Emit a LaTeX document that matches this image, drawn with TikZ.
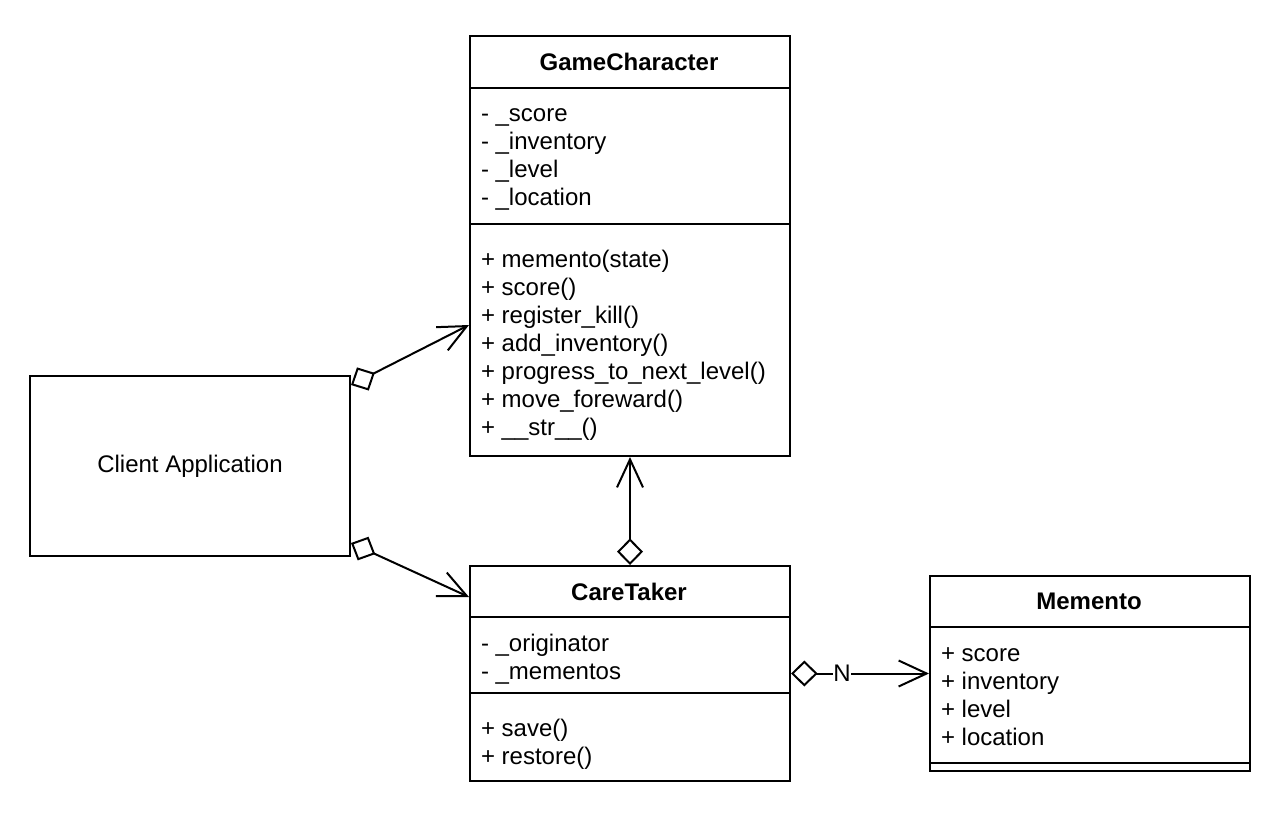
\documentclass[tikz,border=0pt]{standalone}
\usepackage{fontspec}
\setmainfont{Liberation Sans}
\usetikzlibrary{arrows.meta,calc}
\begin{document}
\begin{tikzpicture}[x=0.75pt,y=-0.75pt,
  line width=1.5pt,
  umlbox/.style={draw,rectangle,inner sep=0pt,minimum width=240pt,anchor=north west},
  title/.style={font=\fontsize{18}{21}\selectfont\bfseries,inner sep=0pt,anchor=base},
  members/.style={font=\fontsize{18}{21}\selectfont,align=left,inner sep=0pt,anchor=base west},
  agg/.style={{Diamond[open,length=20pt,width=19.5pt]}-{Straight Barb[length=21pt,width=19.5pt]}},
  mult/.style={font=\fontsize{18}{21}\selectfont,fill=white,inner sep=0.5pt}
]
\useasboundingbox (0,0) rectangle (1286,822);

% GameCharacter
\node[umlbox,minimum height=315pt] (gc) at (469,35) {};
\draw (469,88) -- (789,88);
\draw (469,224) -- (789,224);
\node[title] (gct) at (629,70.7) {GameCharacter};
\node[members] (gca) at (480,205.7) {- \_score\\- \_inventory\\- \_level\\- \_location};
\node[members] (gcm) at (480,435.2) {+ memento(state)\\+ score()\\+ register\_kill()\\+ add\_inventory()\\+ progress\_to\_next\_level()\\+ move\_foreward()\\+ \_\_str\_\_()};

% Client Application
\node[umlbox,minimum height=135pt,font=\fontsize{18}{21}\selectfont] (client) at (29,375) {Client Application};

% CareTaker
\node[umlbox,minimum height=161.25pt] (ct) at (469,565) {};
\draw (469,617) -- (789,617);
\draw (469,692.5) -- (789,692.5);
\node[title] (ctt) at (629,600) {CareTaker};
\node[members] (cta) at (480,679.5) {- \_originator\\- \_mementos};
\node[members] (ctm) at (480,764.5) {+ save()\\+ restore()};

% Memento
\node[umlbox,minimum height=146.25pt] (mem) at (929,575) {};
\draw (929,627) -- (1249,627);
\draw (929,763) -- (1249,763);
\node[title] (memt) at (1089,609.3) {Memento};
\node[members] (mema) at (940,745.7) {+ score\\+ inventory\\+ level\\+ location};

% Connectors
\draw[agg] ($(client.north east)+(0,10)$) -- ($(gc.north west)+(0,290)$);
\draw[agg] ($(client.south east)+(0,-14)$) -- ($(ct.north west)+(0,32)$);
\draw[agg] (ct.north) -- (gc.south);
\draw[agg] (ct.east) -- node[mult,pos=0.37] (nlab) {N} (mem.west);
\end{tikzpicture}
\end{document}
